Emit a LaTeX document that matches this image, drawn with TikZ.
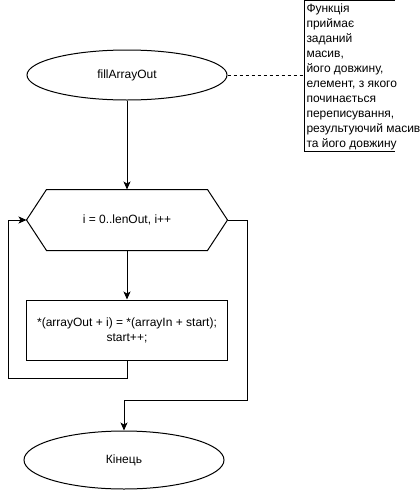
\documentclass[tikz,border=0pt]{standalone}
\usepackage{fontspec}
\setmainfont{Liberation Sans}
\usepackage{tikz}
\usetikzlibrary{arrows.meta}
\usetikzlibrary{calc}
\usetikzlibrary{shapes}

\begin{document}
\begin{tikzpicture}[x=1pt, y=-1pt, line width=1pt, font=\fontsize{12}{15}\selectfont,
        term_style/.style={ellipse,draw=black,minimum width=200pt,minimum height=50pt,inner sep=0pt},
        loop_style/.style={rectangle,minimum width=200pt,minimum height=60pt,inner sep=0pt},
        box_style/.style={rectangle,draw=black,minimum width=201pt,minimum height=60pt,inner sep=0pt,align=center},
        note_style/.style={anchor=north west,inner xsep=2pt,inner ysep=3pt,align=left},
        edge_style/.style={draw=black, line width=1pt,-{Stealth[length=8pt,width=7pt,inset=2pt]}},
        dash_style/.style={draw=black, line width=0.8pt, dash pattern=on 3pt off 3pt}]

        \useasboundingbox (0,0) rectangle (420,491);

        \node [term_style] (n1) at (127,75) {fillArrayOut};

        \node [loop_style] (n2) at (127,220) {i = 0..lenOut, i++};
        \draw ($(n2.north west)+(20,0)$) -- ($(n2.north east)+(-20,0)$) -- (n2.east)
            -- ($(n2.south east)+(-20,0)$) -- ($(n2.south west)+(20,0)$) -- (n2.west) -- cycle;

        \node [box_style] (n3) at (127,330) {*(arrayOut + i) = *(arrayIn + start);\\start++;};

        \node [term_style,minimum height=58pt] (n4) at (124,460) {Кінець};

        \node [note_style] (n5) at (304,0) {Функція\\приймає\\заданий\\масив,\\його довжину,\\елемент, з якого\\починається\\переписування,\\результуючий масив\\та його довжину};
        \draw (395,0.5) -- (304,0.5) -- (304,151) -- (395,151);

        \coordinate (c0) at (304,75);
        \coordinate (c1) at (8,378);
        \coordinate (c2) at (247,400);

        \draw [dash_style] (n1.east) -- (c0);

        \draw [edge_style] (n1) edge (n2);

        \draw [edge_style] (n2) edge (n3);

        \draw [edge_style] (n3.south) |- (c1) |- (n2.west);

        \draw [edge_style] (n2.east) -| (c2) -| (n4.north);

        \end{tikzpicture}
\end{document}
